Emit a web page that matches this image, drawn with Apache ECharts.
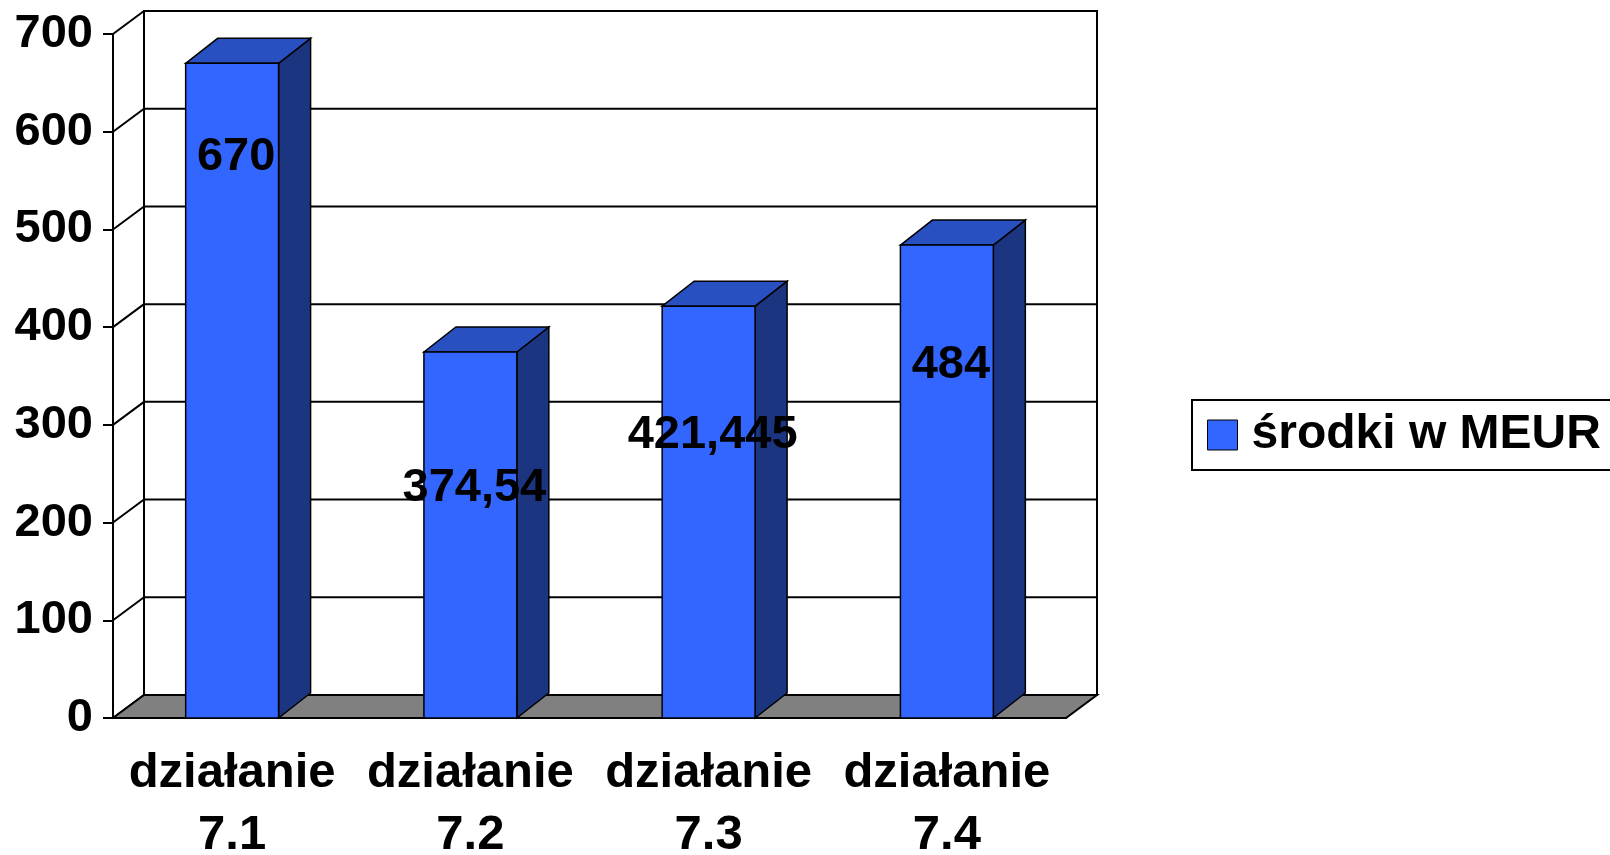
<!DOCTYPE html>
<html>
<head>
<meta charset="utf-8">
<title>środki w MEUR</title>
<script src="https://cdn.jsdelivr.net/npm/echarts@6/dist/echarts.min.js"></script>
<style>
  html, body { margin: 0; padding: 0; background: #fff; }
  #chart { width: 1610px; height: 855px; }
</style>
</head>
<body>
<div id="chart"></div>
<script>
// dane
const categories = ["działanie\n7.1", "działanie\n7.2", "działanie\n7.3", "działanie\n7.4"];
const values = [670, 374.54, 421.445, 484];
const yTicks = [0, 100, 200, 300, 400, 500, 600, 700];
const seriesName = "środki w MEUR";

const FONT = '"Liberation Sans", Arial, sans-serif';
// przesunięcie "głębi" 3D
const WALL_DX = 31, WALL_DY = -23;
const BAR_DX = 32, BAR_DY = -25;

const chart = echarts.init(document.getElementById("chart"));

// tylna ściana, podłoga i linie siatki
const renderFrame = (params, api) => {
  const cs = params.coordSys;
  const x0 = cs.x;
  const x1 = cs.x + cs.width;
  const yBase = api.coord([0, 0])[1];
  const children = [];
  children.push({
    type: "rect",
    shape: { x: x0 + WALL_DX, y: cs.y + WALL_DY, width: cs.width, height: cs.height },
    style: { fill: "#fff", stroke: "#000", lineWidth: 2 },
  });
  yTicks.forEach((t) => {
    const y = api.coord([0, t])[1];
    children.push({
      type: "line",
      shape: { x1: x0 + WALL_DX, y1: y + WALL_DY, x2: x1 + WALL_DX, y2: y + WALL_DY },
      style: { stroke: "#000", lineWidth: 2 },
    });
    children.push({
      type: "line",
      shape: { x1: x0, y1: y, x2: x0 + WALL_DX, y2: y + WALL_DY },
      style: { stroke: "#000", lineWidth: 2 },
    });
  });
  children.push({
    type: "polygon",
    shape: {
      points: [
        [x0, yBase],
        [x1, yBase],
        [x1 + WALL_DX, yBase + WALL_DY],
        [x0 + WALL_DX, yBase + WALL_DY],
      ],
    },
    style: { fill: "#808080", stroke: "#000", lineWidth: 2 },
  });
  return { type: "group", children };
};

// słupek 3D: przód, bok, góra + etykieta
const renderBar = (params, api) => {
  const i = api.value(0);
  const v = api.value(1);
  const base = api.coord([i, 0]);
  const top = api.coord([i, v]);
  const w = api.size([1, 0])[0] * 0.39;
  const xl = base[0] - w / 2;
  const xr = base[0] + w / 2;
  const h = base[1] - top[1];
  const stroke = { stroke: "#000", lineWidth: 1.5 };
  return {
    type: "group",
    children: [
      {
        type: "polygon",
        shape: { points: [[xr, top[1]], [xr + BAR_DX, top[1] + BAR_DY], [xr + BAR_DX, base[1] + BAR_DY], [xr, base[1]]] },
        style: Object.assign({ fill: "#1c3580" }, stroke),
      },
      {
        type: "polygon",
        shape: { points: [[xl, top[1]], [xl + BAR_DX, top[1] + BAR_DY], [xr + BAR_DX, top[1] + BAR_DY], [xr, top[1]]] },
        style: Object.assign({ fill: "#2850c0" }, stroke),
      },
      {
        type: "rect",
        shape: { x: xl, y: top[1], width: w, height: h },
        style: Object.assign({ fill: "#3366ff" }, stroke),
      },
      {
        // etykieta jak w Excelu: niżej od wierzchołka przy niższych słupkach
        type: "text",
        x: base[0] + 4,
        y: top[1] + 189 - 0.145 * h,
        style: {
          text: String(values[i]).replace(".", ","),
          fontFamily: FONT,
          fontWeight: "bold",
          fontSize: 47,
          fill: "#000",
          align: "center",
          verticalAlign: "middle",
        },
      },
    ],
  };
};

const options = {
  animation: false,
  grid: { left: 113, right: 544, top: 34, bottom: 137, containLabel: false, outerBoundsMode: "none" },
  legend: {
    data: [seriesName],
    left: 1192,
    top: 400,
    icon: "rect",
    itemWidth: 30,
    itemHeight: 30,
    borderColor: "#000",
    borderWidth: 2,
    padding: [11, 40, 11, 15],
    itemStyle: { borderColor: "#000", borderWidth: 1 },
    textStyle: {
      fontFamily: FONT,
      fontWeight: "bold",
      fontSize: 48,
      color: "#000",
      padding: [0, 0, 0, 9],
    },
  },
  xAxis: {
    type: "category",
    data: categories,
    axisLine: { lineStyle: { color: "#000", width: 2 } },
    axisTick: { length: 13, lineStyle: { color: "#000", width: 2 } },
    axisLabel: {
      interval: 0,
      margin: 24,
      fontFamily: FONT,
      fontWeight: "bold",
      fontSize: 49,
      lineHeight: 62,
      color: "#000",
    },
  },
  yAxis: {
    type: "value",
    min: 0,
    max: 700,
    interval: 100,
    axisLine: { show: true, lineStyle: { color: "#000", width: 2 } },
    axisTick: { show: true, length: 10, lineStyle: { color: "#000", width: 2 } },
    splitLine: { show: false },
    axisLabel: {
      margin: 20,
      fontFamily: FONT,
      fontWeight: "bold",
      fontSize: 47,
      color: "#000",
    },
  },
  series: [
    {
      type: "custom",
      name: "frame",
      z: 1,
      silent: true,
      renderItem: renderFrame,
      data: [[0, 0]],
    },
    {
      type: "custom",
      name: seriesName,
      z: 3,
      itemStyle: { color: "#3366ff" },
      renderItem: renderBar,
      data: values.map((v, i) => [i, v]),
    },
  ],
};

chart.setOption(options);
</script>
</body>
</html>
